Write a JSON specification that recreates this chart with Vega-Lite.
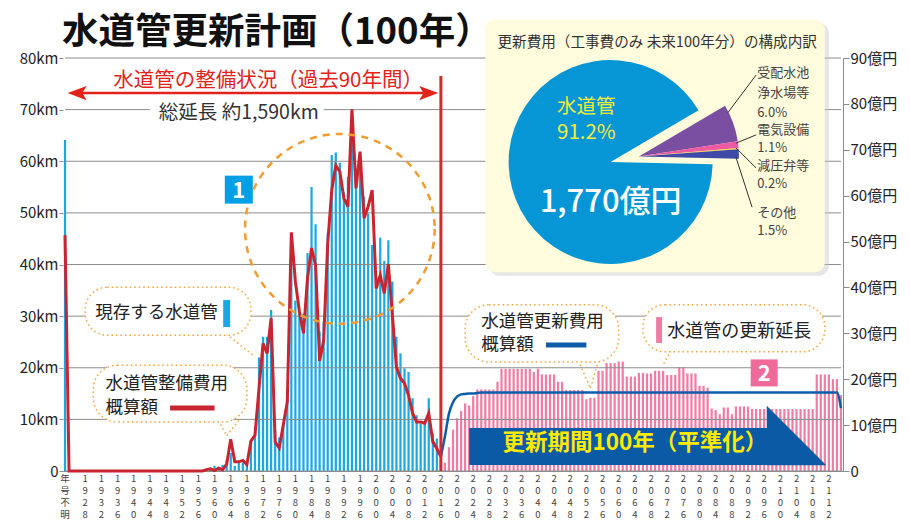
{
"$schema": "https://vega.github.io/schema/vega-lite/v6.json",
"width": 780, "height": 413,
"autosize": "none",
"padding": {"left": 63, "top": 58, "right": 67, "bottom": 49},
"background": "white",
"config": {"font": "Noto Sans CJK JP", "view": {"stroke": null}},
"datasets": {
"length": [
{"year":"年号不明","km":64.1,"phase":"現存"},
{"year":"1958","km":0.4,"phase":"現存"},{"year":"1959","km":0.6,"phase":"現存"},{"year":"1960","km":1.0,"phase":"現存"},{"year":"1961","km":0.8,"phase":"現存"},{"year":"1962","km":1.2,"phase":"現存"},{"year":"1963","km":2.2,"phase":"現存"},{"year":"1964","km":3.5,"phase":"現存"},{"year":"1965","km":1.0,"phase":"現存"},{"year":"1966","km":1.6,"phase":"現存"},{"year":"1967","km":1.6,"phase":"現存"},
{"year":"1968","km":1.3,"phase":"現存"},{"year":"1969","km":6.0,"phase":"現存"},{"year":"1970","km":7.0,"phase":"現存"},{"year":"1971","km":22.0,"phase":"現存"},{"year":"1972","km":26.0,"phase":"現存"},{"year":"1973","km":26.0,"phase":"現存"},{"year":"1974","km":31.2,"phase":"現存"},{"year":"1975","km":8.0,"phase":"現存"},{"year":"1976","km":6.5,"phase":"現存"},{"year":"1977","km":9.0,"phase":"現存"},
{"year":"1978","km":15.0,"phase":"現存"},{"year":"1979","km":46.0,"phase":"現存"},{"year":"1980","km":33.0,"phase":"現存"},{"year":"1981","km":31.0,"phase":"現存"},{"year":"1982","km":30.5,"phase":"現存"},{"year":"1983","km":42.2,"phase":"現存"},{"year":"1984","km":55.0,"phase":"現存"},{"year":"1985","km":47.8,"phase":"現存"},{"year":"1986","km":27.0,"phase":"現存"},{"year":"1987","km":29.0,"phase":"現存"},
{"year":"1988","km":46.0,"phase":"現存"},{"year":"1989","km":61.2,"phase":"現存"},{"year":"1990","km":61.7,"phase":"現存"},{"year":"1991","km":59.7,"phase":"現存"},{"year":"1992","km":54.0,"phase":"現存"},{"year":"1993","km":57.0,"phase":"現存"},{"year":"1994","km":64.4,"phase":"現存"},{"year":"1995","km":57.7,"phase":"現存"},{"year":"1996","km":61.5,"phase":"現存"},{"year":"1997","km":53.1,"phase":"現存"},
{"year":"1998","km":49.9,"phase":"現存"},{"year":"1999","km":43.8,"phase":"現存"},{"year":"2000","km":37.6,"phase":"現存"},{"year":"2001","km":45.2,"phase":"現存"},{"year":"2002","km":40.7,"phase":"現存"},{"year":"2003","km":44.7,"phase":"現存"},{"year":"2004","km":36.7,"phase":"現存"},{"year":"2005","km":26.0,"phase":"現存"},{"year":"2006","km":22.8,"phase":"現存"},{"year":"2007","km":19.9,"phase":"現存"},
{"year":"2008","km":19.2,"phase":"現存"},{"year":"2009","km":14.1,"phase":"現存"},{"year":"2010","km":10.8,"phase":"現存"},{"year":"2011","km":9.2,"phase":"現存"},{"year":"2012","km":9.2,"phase":"現存"},{"year":"2013","km":14.1,"phase":"現存"},{"year":"2014","km":7.3,"phase":"現存"},{"year":"2015","km":6.3,"phase":"現存"},{"year":"2016","km":2.1,"phase":"現存"},
{"year":"2017","km":1.6,"phase":"更新"},{"year":"2018","km":4.6,"phase":"更新"},{"year":"2019","km":8.0,"phase":"更新"},{"year":"2020","km":10.2,"phase":"更新"},{"year":"2021","km":11.6,"phase":"更新"},{"year":"2022","km":13.1,"phase":"更新"},{"year":"2023","km":12.7,"phase":"更新"},{"year":"2024","km":14.5,"phase":"更新"},{"year":"2025","km":15.8,"phase":"更新"},{"year":"2026","km":15.8,"phase":"更新"},
{"year":"2027","km":15.8,"phase":"更新"},{"year":"2028","km":15.8,"phase":"更新"},{"year":"2029","km":15.8,"phase":"更新"},{"year":"2030","km":17.3,"phase":"更新"},{"year":"2031","km":19.8,"phase":"更新"},{"year":"2032","km":19.8,"phase":"更新"},{"year":"2033","km":19.8,"phase":"更新"},{"year":"2034","km":19.8,"phase":"更新"},{"year":"2035","km":19.8,"phase":"更新"},{"year":"2036","km":19.8,"phase":"更新"},
{"year":"2037","km":19.8,"phase":"更新"},{"year":"2038","km":19.8,"phase":"更新"},{"year":"2039","km":19.2,"phase":"更新"},{"year":"2040","km":19.8,"phase":"更新"},{"year":"2041","km":18.7,"phase":"更新"},{"year":"2042","km":18.7,"phase":"更新"},{"year":"2043","km":18.7,"phase":"更新"},{"year":"2044","km":18.7,"phase":"更新"},{"year":"2045","km":17.3,"phase":"更新"},{"year":"2046","km":17.3,"phase":"更新"},
{"year":"2047","km":15.7,"phase":"更新"},{"year":"2048","km":15.7,"phase":"更新"},{"year":"2049","km":15.7,"phase":"更新"},{"year":"2050","km":15.7,"phase":"更新"},{"year":"2051","km":15.7,"phase":"更新"},{"year":"2052","km":13.9,"phase":"更新"},{"year":"2053","km":14.2,"phase":"更新"},{"year":"2054","km":14.2,"phase":"更新"},{"year":"2055","km":19.4,"phase":"更新"},{"year":"2056","km":19.4,"phase":"更新"},
{"year":"2057","km":20.9,"phase":"更新"},{"year":"2058","km":20.9,"phase":"更新"},{"year":"2059","km":20.9,"phase":"更新"},{"year":"2060","km":21.2,"phase":"更新"},{"year":"2061","km":21.2,"phase":"更新"},{"year":"2062","km":18.3,"phase":"更新"},{"year":"2063","km":18.3,"phase":"更新"},{"year":"2064","km":18.3,"phase":"更新"},{"year":"2065","km":19.0,"phase":"更新"},{"year":"2066","km":19.0,"phase":"更新"},
{"year":"2067","km":18.9,"phase":"更新"},{"year":"2068","km":18.9,"phase":"更新"},{"year":"2069","km":19.4,"phase":"更新"},{"year":"2070","km":19.4,"phase":"更新"},{"year":"2071","km":19.4,"phase":"更新"},{"year":"2072","km":18.6,"phase":"更新"},{"year":"2073","km":18.6,"phase":"更新"},{"year":"2074","km":18.6,"phase":"更新"},{"year":"2075","km":20.1,"phase":"更新"},{"year":"2076","km":20.1,"phase":"更新"},
{"year":"2077","km":18.9,"phase":"更新"},{"year":"2078","km":18.9,"phase":"更新"},{"year":"2079","km":18.9,"phase":"更新"},{"year":"2080","km":16.5,"phase":"更新"},{"year":"2081","km":16.5,"phase":"更新"},{"year":"2082","km":16.1,"phase":"更新"},{"year":"2083","km":12.1,"phase":"更新"},{"year":"2084","km":11.8,"phase":"更新"},{"year":"2085","km":11.0,"phase":"更新"},{"year":"2086","km":12.3,"phase":"更新"},
{"year":"2087","km":12.3,"phase":"更新"},{"year":"2088","km":11.0,"phase":"更新"},{"year":"2089","km":12.5,"phase":"更新"},{"year":"2090","km":12.5,"phase":"更新"},{"year":"2091","km":12.5,"phase":"更新"},{"year":"2092","km":12.5,"phase":"更新"},{"year":"2093","km":12.0,"phase":"更新"},{"year":"2094","km":12.0,"phase":"更新"},{"year":"2095","km":12.0,"phase":"更新"},{"year":"2096","km":12.0,"phase":"更新"},
{"year":"2097","km":12.0,"phase":"更新"},{"year":"2098","km":12.0,"phase":"更新"},{"year":"2099","km":12.0,"phase":"更新"},{"year":"2100","km":12.0,"phase":"更新"},{"year":"2101","km":12.0,"phase":"更新"},{"year":"2102","km":12.0,"phase":"更新"},{"year":"2103","km":12.0,"phase":"更新"},{"year":"2104","km":12.0,"phase":"更新"},{"year":"2105","km":12.0,"phase":"更新"},{"year":"2106","km":12.0,"phase":"更新"},
{"year":"2107","km":12.0,"phase":"更新"},{"year":"2108","km":12.0,"phase":"更新"},{"year":"2109","km":18.7,"phase":"更新"},{"year":"2110","km":18.7,"phase":"更新"},{"year":"2111","km":18.7,"phase":"更新"},{"year":"2112","km":18.7,"phase":"更新"},{"year":"2113","km":17.8,"phase":"更新"},{"year":"2114","km":17.8,"phase":"更新"},{"year":"2115","km":14.7,"phase":"更新"}
],
"cost": [
{"year":"年号不明","oku":51.4,"series":"整備費用"},
{"year":"1924","oku":0,"series":"整備費用"},{"year":"1925","oku":0,"series":"整備費用"},{"year":"1926","oku":0,"series":"整備費用"},{"year":"1927","oku":0,"series":"整備費用"},{"year":"1928","oku":0,"series":"整備費用"},{"year":"1929","oku":0,"series":"整備費用"},{"year":"1930","oku":0,"series":"整備費用"},{"year":"1931","oku":0,"series":"整備費用"},{"year":"1932","oku":0,"series":"整備費用"},{"year":"1933","oku":0,"series":"整備費用"},
{"year":"1934","oku":0,"series":"整備費用"},{"year":"1935","oku":0,"series":"整備費用"},{"year":"1936","oku":0,"series":"整備費用"},{"year":"1937","oku":0,"series":"整備費用"},{"year":"1938","oku":0,"series":"整備費用"},{"year":"1939","oku":0,"series":"整備費用"},{"year":"1940","oku":0,"series":"整備費用"},{"year":"1941","oku":0,"series":"整備費用"},{"year":"1942","oku":0,"series":"整備費用"},{"year":"1943","oku":0,"series":"整備費用"},
{"year":"1944","oku":0,"series":"整備費用"},{"year":"1945","oku":0,"series":"整備費用"},{"year":"1946","oku":0,"series":"整備費用"},{"year":"1947","oku":0,"series":"整備費用"},{"year":"1948","oku":0,"series":"整備費用"},{"year":"1949","oku":0,"series":"整備費用"},{"year":"1950","oku":0,"series":"整備費用"},{"year":"1951","oku":0,"series":"整備費用"},{"year":"1952","oku":0,"series":"整備費用"},{"year":"1953","oku":0,"series":"整備費用"},
{"year":"1954","oku":0,"series":"整備費用"},{"year":"1955","oku":0,"series":"整備費用"},{"year":"1956","oku":0,"series":"整備費用"},{"year":"1957","oku":0,"series":"整備費用"},
{"year":"1958","oku":0.3,"series":"整備費用"},{"year":"1959","oku":0.5,"series":"整備費用"},{"year":"1960","oku":0.1,"series":"整備費用"},{"year":"1961","oku":0.6,"series":"整備費用"},{"year":"1962","oku":0.3,"series":"整備費用"},{"year":"1963","oku":1.5,"series":"整備費用"},{"year":"1964","oku":6.9,"series":"整備費用"},{"year":"1965","oku":2.0,"series":"整備費用"},{"year":"1966","oku":2.0,"series":"整備費用"},{"year":"1967","oku":2.3,"series":"整備費用"},
{"year":"1968","oku":1.4,"series":"整備費用"},{"year":"1969","oku":6.5,"series":"整備費用"},{"year":"1970","oku":7.8,"series":"整備費用"},{"year":"1971","oku":18.0,"series":"整備費用"},{"year":"1972","oku":27.8,"series":"整備費用"},{"year":"1973","oku":25.6,"series":"整備費用"},{"year":"1974","oku":33.3,"series":"整備費用"},{"year":"1975","oku":6.3,"series":"整備費用"},{"year":"1976","oku":5.0,"series":"整備費用"},{"year":"1977","oku":10.0,"series":"整備費用"},
{"year":"1978","oku":15.1,"series":"整備費用"},{"year":"1979","oku":52.0,"series":"整備費用"},{"year":"1980","oku":41.3,"series":"整備費用"},{"year":"1981","oku":34.7,"series":"整備費用"},{"year":"1982","oku":30.0,"series":"整備費用"},{"year":"1983","oku":42.0,"series":"整備費用"},{"year":"1984","oku":48.6,"series":"整備費用"},{"year":"1985","oku":44.8,"series":"整備費用"},{"year":"1986","oku":24.0,"series":"整備費用"},{"year":"1987","oku":28.5,"series":"整備費用"},
{"year":"1988","oku":49.6,"series":"整備費用"},{"year":"1989","oku":61.2,"series":"整備費用"},{"year":"1990","oku":66.6,"series":"整備費用"},{"year":"1991","oku":65.2,"series":"整備費用"},{"year":"1992","oku":59.4,"series":"整備費用"},{"year":"1993","oku":57.6,"series":"整備費用"},{"year":"1994","oku":78.8,"series":"整備費用"},{"year":"1995","oku":61.6,"series":"整備費用"},{"year":"1996","oku":69.6,"series":"整備費用"},{"year":"1997","oku":55.1,"series":"整備費用"},
{"year":"1998","oku":57.6,"series":"整備費用"},{"year":"1999","oku":61.2,"series":"整備費用"},{"year":"2000","oku":39.8,"series":"整備費用"},{"year":"2001","oku":42.7,"series":"整備費用"},{"year":"2002","oku":38.7,"series":"整備費用"},{"year":"2003","oku":45.1,"series":"整備費用"},{"year":"2004","oku":34.0,"series":"整備費用"},{"year":"2005","oku":22.7,"series":"整備費用"},{"year":"2006","oku":20.2,"series":"整備費用"},{"year":"2007","oku":19.1,"series":"整備費用"},
{"year":"2008","oku":16.5,"series":"整備費用"},{"year":"2009","oku":12.6,"series":"整備費用"},{"year":"2010","oku":10.7,"series":"整備費用"},{"year":"2011","oku":10.7,"series":"整備費用"},{"year":"2012","oku":10.4,"series":"整備費用"},{"year":"2013","oku":12.6,"series":"整備費用"},{"year":"2014","oku":6.4,"series":"整備費用"},{"year":"2015","oku":4.9,"series":"整備費用"},{"year":"2016","oku":3.1,"series":"整備費用"},
{"year":"2016","oku":3.1,"series":"更新費用"},{"year":"2017","oku":7.5,"series":"更新費用"},{"year":"2018","oku":12.5,"series":"更新費用"},{"year":"2019","oku":15.0,"series":"更新費用"},{"year":"2020","oku":16.2,"series":"更新費用"},{"year":"2021","oku":16.7,"series":"更新費用"},{"year":"2022","oku":16.8,"series":"更新費用"},{"year":"2023","oku":16.9,"series":"更新費用"},{"year":"2024","oku":16.9,"series":"更新費用"},{"year":"2025","oku":17.0,"series":"更新費用"},
{"year":"2026","oku":17.1,"series":"更新費用"},{"year":"2027","oku":17.1,"series":"更新費用"},{"year":"2028","oku":17.1,"series":"更新費用"},{"year":"2029","oku":17.1,"series":"更新費用"},{"year":"2030","oku":17.1,"series":"更新費用"},{"year":"2031","oku":17.1,"series":"更新費用"},{"year":"2032","oku":17.1,"series":"更新費用"},{"year":"2033","oku":17.1,"series":"更新費用"},{"year":"2034","oku":17.1,"series":"更新費用"},{"year":"2035","oku":17.1,"series":"更新費用"},
{"year":"2036","oku":17.1,"series":"更新費用"},{"year":"2037","oku":17.1,"series":"更新費用"},{"year":"2038","oku":17.1,"series":"更新費用"},{"year":"2039","oku":17.1,"series":"更新費用"},{"year":"2040","oku":17.1,"series":"更新費用"},{"year":"2041","oku":17.1,"series":"更新費用"},{"year":"2042","oku":17.1,"series":"更新費用"},{"year":"2043","oku":17.1,"series":"更新費用"},{"year":"2044","oku":17.1,"series":"更新費用"},{"year":"2045","oku":17.1,"series":"更新費用"},
{"year":"2046","oku":17.1,"series":"更新費用"},{"year":"2047","oku":17.1,"series":"更新費用"},{"year":"2048","oku":17.1,"series":"更新費用"},{"year":"2049","oku":17.1,"series":"更新費用"},{"year":"2050","oku":17.1,"series":"更新費用"},{"year":"2051","oku":17.1,"series":"更新費用"},{"year":"2052","oku":17.1,"series":"更新費用"},{"year":"2053","oku":17.1,"series":"更新費用"},{"year":"2054","oku":17.1,"series":"更新費用"},{"year":"2055","oku":17.1,"series":"更新費用"},
{"year":"2056","oku":17.1,"series":"更新費用"},{"year":"2057","oku":17.1,"series":"更新費用"},{"year":"2058","oku":17.1,"series":"更新費用"},{"year":"2059","oku":17.1,"series":"更新費用"},{"year":"2060","oku":17.1,"series":"更新費用"},{"year":"2061","oku":17.1,"series":"更新費用"},{"year":"2062","oku":17.1,"series":"更新費用"},{"year":"2063","oku":17.1,"series":"更新費用"},{"year":"2064","oku":17.1,"series":"更新費用"},{"year":"2065","oku":17.1,"series":"更新費用"},
{"year":"2066","oku":17.1,"series":"更新費用"},{"year":"2067","oku":17.1,"series":"更新費用"},{"year":"2068","oku":17.1,"series":"更新費用"},{"year":"2069","oku":17.1,"series":"更新費用"},{"year":"2070","oku":17.1,"series":"更新費用"},{"year":"2071","oku":17.1,"series":"更新費用"},{"year":"2072","oku":17.1,"series":"更新費用"},{"year":"2073","oku":17.1,"series":"更新費用"},{"year":"2074","oku":17.1,"series":"更新費用"},{"year":"2075","oku":17.1,"series":"更新費用"},
{"year":"2076","oku":17.1,"series":"更新費用"},{"year":"2077","oku":17.1,"series":"更新費用"},{"year":"2078","oku":17.1,"series":"更新費用"},{"year":"2079","oku":17.1,"series":"更新費用"},{"year":"2080","oku":17.1,"series":"更新費用"},{"year":"2081","oku":17.1,"series":"更新費用"},{"year":"2082","oku":17.1,"series":"更新費用"},{"year":"2083","oku":17.1,"series":"更新費用"},{"year":"2084","oku":17.1,"series":"更新費用"},{"year":"2085","oku":17.1,"series":"更新費用"},
{"year":"2086","oku":17.1,"series":"更新費用"},{"year":"2087","oku":17.1,"series":"更新費用"},{"year":"2088","oku":17.1,"series":"更新費用"},{"year":"2089","oku":17.1,"series":"更新費用"},{"year":"2090","oku":17.1,"series":"更新費用"},{"year":"2091","oku":17.1,"series":"更新費用"},{"year":"2092","oku":17.1,"series":"更新費用"},{"year":"2093","oku":17.1,"series":"更新費用"},{"year":"2094","oku":17.1,"series":"更新費用"},{"year":"2095","oku":17.1,"series":"更新費用"},
{"year":"2096","oku":17.1,"series":"更新費用"},{"year":"2097","oku":17.1,"series":"更新費用"},{"year":"2098","oku":17.1,"series":"更新費用"},{"year":"2099","oku":17.1,"series":"更新費用"},{"year":"2100","oku":17.1,"series":"更新費用"},{"year":"2101","oku":17.1,"series":"更新費用"},{"year":"2102","oku":17.1,"series":"更新費用"},{"year":"2103","oku":17.1,"series":"更新費用"},{"year":"2104","oku":17.1,"series":"更新費用"},{"year":"2105","oku":17.1,"series":"更新費用"},
{"year":"2106","oku":17.1,"series":"更新費用"},{"year":"2107","oku":17.1,"series":"更新費用"},{"year":"2108","oku":17.1,"series":"更新費用"},{"year":"2109","oku":17.1,"series":"更新費用"},{"year":"2110","oku":17.1,"series":"更新費用"},{"year":"2111","oku":17.1,"series":"更新費用"},{"year":"2112","oku":17.1,"series":"更新費用"},{"year":"2113","oku":17.1,"series":"更新費用"},{"year":"2114","oku":17.1,"series":"更新費用"},{"year":"2115","oku":13.7,"series":"更新費用"}
],
"pie": [
{"item":"受配水池・浄水場等","pct":6.0,"no":1},
{"item":"電気設備","pct":1.1,"no":2},
{"item":"減圧弁等","pct":0.2,"no":3},
{"item":"その他","pct":1.5,"no":4},
{"item":"水道管","pct":91.2,"no":5}
]
},
"data": {"values": [{}]},
"layer": [
{"data": {"name": "length"}, "transform": [{"filter": "datum.phase === '現存'"}],
 "mark": {"type": "bar", "color": "#1aa8e2"},
 "encoding": {
  "x": {"field": "year", "type": "ordinal",
   "scale": {"type": "band", "paddingInner": 0.45, "paddingOuter": 0.225, "domain": ["年号不明",
"1924","1925","1926","1927","1928","1929","1930","1931","1932","1933",
"1934","1935","1936","1937","1938","1939","1940","1941","1942","1943",
"1944","1945","1946","1947","1948","1949","1950","1951","1952","1953",
"1954","1955","1956","1957","1958","1959","1960","1961","1962","1963",
"1964","1965","1966","1967","1968","1969","1970","1971","1972","1973",
"1974","1975","1976","1977","1978","1979","1980","1981","1982","1983",
"1984","1985","1986","1987","1988","1989","1990","1991","1992","1993",
"1994","1995","1996","1997","1998","1999","2000","2001","2002","2003",
"2004","2005","2006","2007","2008","2009","2010","2011","2012","2013",
"2014","2015","2016","2017","2018","2019","2020","2021","2022","2023",
"2024","2025","2026","2027","2028","2029","2030","2031","2032","2033",
"2034","2035","2036","2037","2038","2039","2040","2041","2042","2043",
"2044","2045","2046","2047","2048","2049","2050","2051","2052","2053",
"2054","2055","2056","2057","2058","2059","2060","2061","2062","2063",
"2064","2065","2066","2067","2068","2069","2070","2071","2072","2073",
"2074","2075","2076","2077","2078","2079","2080","2081","2082","2083",
"2084","2085","2086","2087","2088","2089","2090","2091","2092","2093",
"2094","2095","2096","2097","2098","2099","2100","2101","2102","2103",
"2104","2105","2106","2107","2108","2109","2110","2111","2112","2113",
"2114","2115"]},
   "axis": {"title": null, "ticks": false, "domain": true, "domainColor": "#8c8c8c", "labelAngle": 0,
    "values": ["年号不明","1928","1932","1936","1940","1944","1948","1952","1956","1960","1964","1968","1972","1976","1980","1984","1988","1992","1996","2000","2004","2008","2012","2016","2020","2024","2028","2032","2036","2040","2044","2048","2052","2056","2060","2064","2068","2072","2076","2080","2084","2088","2092","2096","2100","2104","2108","2112"],
    "labelExpr": "split(datum.label, '')",
    "labelFontSize": 9.5, "labelLineHeight": 12, "labelColor": "#444444", "labelOverlap": false, "labelPadding": 2, "labelBaseline": "top", "labelFlush": false, "labelBound": false}},
  "y": {"field": "km", "type": "quantitative", "scale": {"domain": [0, 80], "nice": false},
   "axis": {"orient": "left", "values": [0,10,20,30,40,50,60,70,80], "labelExpr": "datum.value === 0 ? '0' : datum.value + 'km'", "title": null, "grid": false, "domain": false, "tickColor": "#8c8c8c", "tickSize": 4, "labelFontSize": 15, "labelColor": "#222222", "labelPadding": 1}}
 }},
{"data": {"name": "length"}, "transform": [{"filter": "datum.phase === '更新'"}],
 "mark": {"type": "bar", "color": "#f07ca4"},
 "encoding": {
  "x": {"field": "year", "type": "ordinal", "axis": {"title": null}},
  "y": {"field": "km", "type": "quantitative", "scale": {"domain": [0, 80], "nice": false}, "axis": null}
 }},
{"mark": {"type": "rule", "color": "#8c8c8c", "strokeWidth": 1},
 "encoding": {"x": {"datum": "年号不明", "type": "ordinal", "axis": {"title": null}}, "x2": {"datum": "2115"}, "y": {"datum": 0, "type": "quantitative", "scale": {"domain": [0, 80], "nice": false}, "axis": null}}},
{"mark": {"type": "rule", "color": "#8c8c8c", "strokeWidth": 1},
 "encoding": {"x": {"datum": "年号不明", "type": "ordinal", "axis": {"title": null}}, "x2": {"datum": "2115"}, "y": {"datum": 10, "type": "quantitative", "scale": {"domain": [0, 80], "nice": false}, "axis": null}}},
{"mark": {"type": "rule", "color": "#8c8c8c", "strokeWidth": 1},
 "encoding": {"x": {"datum": "年号不明", "type": "ordinal", "axis": {"title": null}}, "x2": {"datum": "2115"}, "y": {"datum": 20, "type": "quantitative", "scale": {"domain": [0, 80], "nice": false}, "axis": null}}},
{"mark": {"type": "rule", "color": "#8c8c8c", "strokeWidth": 1},
 "encoding": {"x": {"datum": "年号不明", "type": "ordinal", "axis": {"title": null}}, "x2": {"datum": "2115"}, "y": {"datum": 30, "type": "quantitative", "scale": {"domain": [0, 80], "nice": false}, "axis": null}}},
{"mark": {"type": "rule", "color": "#8c8c8c", "strokeWidth": 1},
 "encoding": {"x": {"datum": "年号不明", "type": "ordinal", "axis": {"title": null}}, "x2": {"datum": "2115"}, "y": {"datum": 40, "type": "quantitative", "scale": {"domain": [0, 80], "nice": false}, "axis": null}}},
{"mark": {"type": "rule", "color": "#8c8c8c", "strokeWidth": 1},
 "encoding": {"x": {"datum": "年号不明", "type": "ordinal", "axis": {"title": null}}, "x2": {"datum": "2115"}, "y": {"datum": 50, "type": "quantitative", "scale": {"domain": [0, 80], "nice": false}, "axis": null}}},
{"mark": {"type": "rule", "color": "#8c8c8c", "strokeWidth": 1},
 "encoding": {"x": {"datum": "年号不明", "type": "ordinal", "axis": {"title": null}}, "x2": {"datum": "2115"}, "y": {"datum": 60, "type": "quantitative", "scale": {"domain": [0, 80], "nice": false}, "axis": null}}},
{"mark": {"type": "rule", "color": "#8c8c8c", "strokeWidth": 1},
 "encoding": {"x": {"datum": "年号不明", "type": "ordinal", "axis": {"title": null}}, "x2": {"datum": "2115"}, "y": {"datum": 70, "type": "quantitative", "scale": {"domain": [0, 80], "nice": false}, "axis": null}}},
{"mark": {"type": "rule", "color": "#8c8c8c", "strokeWidth": 1},
 "encoding": {"x": {"datum": "年号不明", "type": "ordinal", "axis": {"title": null}}, "x2": {"datum": "2115"}, "y": {"datum": 80, "type": "quantitative", "scale": {"domain": [0, 80], "nice": false}, "axis": null}}},
{"data": {"name": "cost"}, "transform": [{"filter": "datum.series === '整備費用'"}],
 "mark": {"type": "line", "color": "#c92530", "strokeWidth": 3},
 "encoding": {
  "x": {"field": "year", "type": "ordinal", "axis": {"title": null}},
  "y": {"field": "oku", "type": "quantitative", "scale": {"domain": [0, 90], "nice": false},
   "axis": {"orient": "right", "values": [0,10,20,30,40,50,60,70,80,90], "labelExpr": "datum.value === 0 ? '0' : datum.value + '億円'", "title": null, "grid": false, "domain": true, "domainColor": "#8c8c8c", "tickColor": "#8c8c8c", "tickSize": 6, "labelFontSize": 15, "labelColor": "#222222", "labelPadding": 1}},
  "order": {"value": null}
 }},
{"data": {"name": "cost"}, "transform": [{"filter": "datum.series === '更新費用'"}],
 "mark": {"type": "line", "color": "#0d5ca8", "strokeWidth": 2.5, "interpolate": "monotone"},
 "encoding": {
  "x": {"field": "year", "type": "ordinal", "axis": {"title": null}},
  "y": {"field": "oku", "type": "quantitative", "scale": {"domain": [0, 90], "nice": false}, "axis": null},
  "order": {"value": null}
 }},
{"mark": {"type": "text", "text": "水道管更新計画（100年）", "fontSize": 36.5, "fontWeight": "bold", "color": "#111111", "align": "left", "dx": -3},
 "encoding": {"x": {"datum": "年号不明", "type": "ordinal", "axis": {"title": null}}, "y": {"datum": 84.9, "type": "quantitative", "scale": {"domain": [0, 80], "nice": false}, "axis": null}}},
{"mark": {"type": "rect", "fill": "white"},
 "encoding": {"x": {"datum": "1944", "type": "ordinal", "axis": {"title": null}}, "x2": {"datum": "1987"},
  "y": {"datum": 71.6, "type": "quantitative", "scale": {"domain": [0, 80], "nice": false}, "axis": null}, "y2": {"datum": 67.6}}},
{"mark": {"type": "text", "text": "総延長 約1,590km", "fontSize": 19.5, "color": "#333333"},
 "encoding": {"x": {"datum": "1966", "type": "ordinal", "axis": {"title": null}}, "y": {"datum": 69.4, "type": "quantitative", "scale": {"domain": [0, 80], "nice": false}, "axis": null}}},
{"mark": {"type": "text", "text": "水道管の整備状況（過去90年間）", "fontSize": 20.5, "color": "#e2231a", "dx": 5},
 "encoding": {"x": {"datum": "1972", "type": "ordinal", "axis": {"title": null}}, "y": {"datum": 75.6, "type": "quantitative", "scale": {"domain": [0, 80], "nice": false}, "axis": null}}},
{"mark": {"type": "rule", "color": "#e2231a", "strokeWidth": 2.5},
 "encoding": {"x": {"datum": "1925", "type": "ordinal", "axis": {"title": null}}, "x2": {"datum": "2014"}, "y": {"datum": 73.2, "type": "quantitative", "scale": {"domain": [0, 80], "nice": false}, "axis": null}}},
{"mark": {"type": "point", "shape": "M-1,0L1,-0.75L0.55,0L1,0.75Z", "size": 360, "filled": true, "color": "#e2231a", "opacity": 1, "strokeWidth": 0},
 "encoding": {"x": {"datum": "1926", "type": "ordinal", "axis": {"title": null}}, "y": {"datum": 73.2, "type": "quantitative", "scale": {"domain": [0, 80], "nice": false}, "axis": null}}},
{"mark": {"type": "point", "shape": "M1,0L-1,-0.75L-0.55,0L-1,0.75Z", "size": 360, "filled": true, "color": "#e2231a", "opacity": 1, "strokeWidth": 0},
 "encoding": {"x": {"datum": "2013", "type": "ordinal", "axis": {"title": null}}, "y": {"datum": 73.2, "type": "quantitative", "scale": {"domain": [0, 80], "nice": false}, "axis": null}}},
{"mark": {"type": "rule", "color": "#d42a2f", "strokeWidth": 3},
 "encoding": {"x": {"datum": "2016", "type": "ordinal", "axis": {"title": null}}, "y": {"datum": 0, "type": "quantitative", "scale": {"domain": [0, 80], "nice": false}, "axis": null}, "y2": {"datum": 76.5}}},
{"mark": {"type": "point", "shape": "circle", "size": 35968, "filled": false, "stroke": "#f39b2f", "strokeWidth": 2.5, "strokeDash": [7, 6], "opacity": 1},
 "encoding": {"x": {"datum": "1991", "type": "ordinal", "axis": {"title": null}}, "y": {"datum": 46.9, "type": "quantitative", "scale": {"domain": [0, 80], "nice": false}, "axis": null}}},
{"mark": {"type": "point", "shape": "square", "size": 784, "filled": true, "color": "#00a0e4", "opacity": 1, "strokeWidth": 0},
 "encoding": {"x": {"datum": "1966", "type": "ordinal", "axis": {"title": null}}, "y": {"datum": 54.5, "type": "quantitative", "scale": {"domain": [0, 80], "nice": false}, "axis": null}}},
{"mark": {"type": "text", "text": "1", "fontSize": 22, "fontWeight": "bold", "color": "white", "dy": 1},
 "encoding": {"x": {"datum": "1966", "type": "ordinal", "axis": {"title": null}}, "y": {"datum": 54.5, "type": "quantitative", "scale": {"domain": [0, 80], "nice": false}, "axis": null}}},
{"mark": {"type": "rule", "color": "#f5a337", "strokeWidth": 1.5, "strokeDash": [1.5, 3]},
 "encoding": {"x": {"datum": "1963", "type": "ordinal", "axis": {"title": null}}, "x2": {"datum": "1970"}, "y": {"datum": 26.5, "type": "quantitative", "scale": {"domain": [0, 80], "nice": false}, "axis": null}, "y2": {"datum": 22.1}}},
{"mark": {"type": "rule", "color": "#f5a337", "strokeWidth": 1.5, "strokeDash": [1.5, 3]},
 "encoding": {"x": {"datum": "1961", "type": "ordinal", "axis": {"title": null}}, "x2": {"datum": "1963"}, "y": {"datum": 9.8, "type": "quantitative", "scale": {"domain": [0, 80], "nice": false}, "axis": null}, "y2": {"datum": 6.8}}},
{"mark": {"type": "rule", "color": "#f5a337", "strokeWidth": 1.5, "strokeDash": [1.5, 3]},
 "encoding": {"x": {"datum": "1966", "type": "ordinal", "axis": {"title": null}}, "x2": {"datum": "1963"}, "y": {"datum": 9.8, "type": "quantitative", "scale": {"domain": [0, 80], "nice": false}, "axis": null}, "y2": {"datum": 6.8}}},
{"mark": {"type": "rule", "color": "#f5a337", "strokeWidth": 1.5, "strokeDash": [1.5, 3]},
 "encoding": {"x": {"datum": "2050", "type": "ordinal", "axis": {"title": null}}, "x2": {"datum": "2053"}, "y": {"datum": 21.4, "type": "quantitative", "scale": {"domain": [0, 80], "nice": false}, "axis": null}, "y2": {"datum": 16.0}}},
{"mark": {"type": "rule", "color": "#f5a337", "strokeWidth": 1.5, "strokeDash": [1.5, 3]},
 "encoding": {"x": {"datum": "2055", "type": "ordinal", "axis": {"title": null}}, "x2": {"datum": "2053"}, "y": {"datum": 21.4, "type": "quantitative", "scale": {"domain": [0, 80], "nice": false}, "axis": null}, "y2": {"datum": 16.0}}},
{"mark": {"type": "rule", "color": "#f5a337", "strokeWidth": 1.5, "strokeDash": [1.5, 3]},
 "encoding": {"x": {"datum": "2073", "type": "ordinal", "axis": {"title": null}}, "x2": {"datum": "2071"}, "y": {"datum": 23.3, "type": "quantitative", "scale": {"domain": [0, 80], "nice": false}, "axis": null}, "y2": {"datum": 20.6}}},
{"mark": {"type": "rect", "fill": "white", "stroke": "#f5a337", "strokeWidth": 1.5, "strokeDash": [1.5, 3], "cornerRadius": 22},
 "encoding": {"x": {"datum": "1928", "type": "ordinal", "axis": {"title": null}}, "x2": {"datum": "1969"}, "y": {"datum": 35.6, "type": "quantitative", "scale": {"domain": [0, 80], "nice": false}, "axis": null}, "y2": {"datum": 26.3}}},
{"mark": {"type": "rect", "fill": "white", "stroke": "#f5a337", "strokeWidth": 1.5, "strokeDash": [1.5, 3], "cornerRadius": 24},
 "encoding": {"x": {"datum": "1930", "type": "ordinal", "axis": {"title": null}}, "x2": {"datum": "1968"}, "y": {"datum": 20.5, "type": "quantitative", "scale": {"domain": [0, 80], "nice": false}, "axis": null}, "y2": {"datum": 9.5}}},
{"mark": {"type": "rect", "fill": "white", "stroke": "#f5a337", "strokeWidth": 1.5, "strokeDash": [1.5, 3], "cornerRadius": 24},
 "encoding": {"x": {"datum": "2022", "type": "ordinal", "axis": {"title": null}}, "x2": {"datum": "2060"}, "y": {"datum": 32.2, "type": "quantitative", "scale": {"domain": [0, 80], "nice": false}, "axis": null}, "y2": {"datum": 21.1}}},
{"mark": {"type": "rect", "fill": "white", "stroke": "#f5a337", "strokeWidth": 1.5, "strokeDash": [1.5, 3], "cornerRadius": 22},
 "encoding": {"x": {"datum": "2066", "type": "ordinal", "axis": {"title": null}}, "x2": {"datum": "2111"}, "y": {"datum": 32.2, "type": "quantitative", "scale": {"domain": [0, 80], "nice": false}, "axis": null}, "y2": {"datum": 23.1}}},
{"mark": {"type": "text", "text": "現存する水道管", "fontSize": 17.5, "color": "#222222", "align": "left", "dx": 2},
 "encoding": {"x": {"datum": "1930", "type": "ordinal", "axis": {"title": null}}, "y": {"datum": 30.6, "type": "quantitative", "scale": {"domain": [0, 80], "nice": false}, "axis": null}}},
{"mark": {"type": "tick", "orient": "vertical", "color": "#1aa8e2", "thickness": 7, "size": 27, "opacity": 1},
 "encoding": {"x": {"datum": "1963", "type": "ordinal", "axis": {"title": null}}, "y": {"datum": 30.5, "type": "quantitative", "scale": {"domain": [0, 80], "nice": false}, "axis": null}}},
{"mark": {"type": "text", "text": ["水道管整備費用", "概算額"], "fontSize": 17.5, "lineHeight": 23.5, "color": "#222222", "align": "left", "baseline": "middle"},
 "encoding": {"x": {"datum": "1933", "type": "ordinal", "axis": {"title": null}}, "y": {"datum": 16.8, "type": "quantitative", "scale": {"domain": [0, 80], "nice": false}, "axis": null}}},
{"mark": {"type": "rule", "color": "#c92530", "strokeWidth": 5},
 "encoding": {"x": {"datum": "1949", "type": "ordinal", "axis": {"title": null}}, "x2": {"datum": "1960"}, "y": {"datum": 12.2, "type": "quantitative", "scale": {"domain": [0, 80], "nice": false}, "axis": null}}},
{"mark": {"type": "text", "text": ["水道管更新費用", "概算額"], "fontSize": 17.5, "lineHeight": 23, "color": "#222222", "align": "left", "baseline": "middle"},
 "encoding": {"x": {"datum": "2026", "type": "ordinal", "axis": {"title": null}}, "y": {"datum": 28.8, "type": "quantitative", "scale": {"domain": [0, 80], "nice": false}, "axis": null}}},
{"mark": {"type": "rule", "color": "#0d5ca8", "strokeWidth": 5},
 "encoding": {"x": {"datum": "2042", "type": "ordinal", "axis": {"title": null}}, "x2": {"datum": "2052"}, "y": {"datum": 24.4, "type": "quantitative", "scale": {"domain": [0, 80], "nice": false}, "axis": null}}},
{"mark": {"type": "tick", "orient": "vertical", "color": "#f07ca4", "thickness": 6, "size": 26, "opacity": 1},
 "encoding": {"x": {"datum": "2070", "type": "ordinal", "axis": {"title": null}}, "y": {"datum": 27.3, "type": "quantitative", "scale": {"domain": [0, 80], "nice": false}, "axis": null}}},
{"mark": {"type": "text", "text": "水道管の更新延長", "fontSize": 18, "color": "#222222", "align": "left"},
 "encoding": {"x": {"datum": "2072", "type": "ordinal", "axis": {"title": null}}, "y": {"datum": 27.0, "type": "quantitative", "scale": {"domain": [0, 80], "nice": false}, "axis": null}}},
{"mark": {"type": "point", "shape": "square", "size": 729, "filled": true, "color": "#ef6a9b", "opacity": 1, "strokeWidth": 0},
 "encoding": {"x": {"datum": "2096", "type": "ordinal", "axis": {"title": null}}, "y": {"datum": 19.0, "type": "quantitative", "scale": {"domain": [0, 80], "nice": false}, "axis": null}}},
{"mark": {"type": "text", "text": "2", "fontSize": 22, "fontWeight": "bold", "color": "white", "dy": 1},
 "encoding": {"x": {"datum": "2096", "type": "ordinal", "axis": {"title": null}}, "y": {"datum": 19.0, "type": "quantitative", "scale": {"domain": [0, 80], "nice": false}, "axis": null}}},
{"mark": {"type": "rect", "fill": "#0b5aa6"},
 "encoding": {"x": {"datum": "2023", "type": "ordinal", "axis": {"title": null}}, "x2": {"datum": "2097"}, "y": {"datum": 8.33, "type": "quantitative", "scale": {"domain": [0, 80], "nice": false}, "axis": null}, "y2": {"datum": 1.16}}},
{"mark": {"type": "point", "shape": "M-1,-1L1,1L-1,1Z", "size": 3540, "filled": true, "color": "#0b5aa6", "opacity": 1, "strokeWidth": 0},
 "encoding": {"x": {"datum": "2104", "type": "ordinal", "axis": {"title": null}}, "y": {"datum": 6.88, "type": "quantitative", "scale": {"domain": [0, 80], "nice": false}, "axis": null}}},
{"mark": {"type": "text", "text": "更新期間100年（平準化）", "fontSize": 22.5, "fontWeight": "bold", "color": "#ffea00", "dx": 4},
 "encoding": {"x": {"datum": "2063", "type": "ordinal", "axis": {"title": null}}, "y": {"datum": 5.4, "type": "quantitative", "scale": {"domain": [0, 80], "nice": false}, "axis": null}}},
{"mark": {"type": "rect", "fill": "#c8c8c8", "opacity": 0.45, "cornerRadius": 10},
 "encoding": {"x": {"datum": "2028", "type": "ordinal", "axis": {"title": null}}, "x2": {"datum": "2112"}, "y": {"datum": 86.8, "type": "quantitative", "scale": {"domain": [0, 80], "nice": false}, "axis": null}, "y2": {"datum": 37.8}}},
{"mark": {"type": "rect", "fill": "#fffbdd", "cornerRadius": 10},
 "encoding": {"x": {"datum": "2027", "type": "ordinal", "axis": {"title": null}}, "x2": {"datum": "2111"}, "y": {"datum": 87.4, "type": "quantitative", "scale": {"domain": [0, 80], "nice": false}, "axis": null}, "y2": {"datum": 38.5}}},
{"mark": {"type": "text", "text": "更新費用（工事費のみ 未来100年分）の構成内訳", "fontSize": 14.6, "color": "#333333", "align": "left"},
 "encoding": {"x": {"datum": "2030", "type": "ordinal", "axis": {"title": null}}, "y": {"datum": 82.9, "type": "quantitative", "scale": {"domain": [0, 80], "nice": false}, "axis": null}}},
{"data": {"name": "pie"},
 "mark": {"type": "arc", "outerRadius": 102},
 "encoding": {
  "theta": {"field": "pct", "type": "quantitative", "stack": true, "scale": {"range": [1.0385, 7.3217]}},
  "order": {"field": "no", "type": "quantitative", "sort": "ascending"},
  "color": {"field": "item", "type": "nominal", "scale": {"domain": ["受配水池・浄水場等", "電気設備", "減圧弁等", "その他", "水道管"], "range": ["#7a4ea0", "#ec5aa2", "#f3d23b", "#3f4aa8", "#0796d5"]}, "legend": null},
  "opacity": {"condition": {"test": "datum.item === '水道管'", "value": 1}, "value": 0},
  "x": {"datum": "2058", "type": "ordinal", "axis": {"title": null}},
  "y": {"datum": 59.85, "type": "quantitative", "scale": {"domain": [0, 80], "nice": false}, "axis": null}
 }},
{"data": {"name": "pie"},
 "mark": {"type": "arc", "outerRadius": 100},
 "encoding": {
  "theta": {"field": "pct", "type": "quantitative", "stack": true, "scale": {"range": [1.0385, 7.3217]}},
  "order": {"field": "no", "type": "quantitative", "sort": "ascending"},
  "color": {"field": "item", "type": "nominal", "legend": null},
  "opacity": {"condition": {"test": "datum.item === '水道管'", "value": 0}, "value": 1},
  "x": {"datum": "2065", "type": "ordinal", "axis": {"title": null}},
  "y": {"datum": 60.9, "type": "quantitative", "scale": {"domain": [0, 80], "nice": false}, "axis": null}
 }},
{"mark": {"type": "text", "text": "水道管", "fontSize": 19.5, "color": "#f3ec3a"},
 "encoding": {"x": {"datum": "2052", "type": "ordinal", "axis": {"title": null}}, "y": {"datum": 70.5, "type": "quantitative", "scale": {"domain": [0, 80], "nice": false}, "axis": null}}},
{"mark": {"type": "text", "text": "91.2%", "fontSize": 20.5, "color": "#f3ec3a"},
 "encoding": {"x": {"datum": "2052", "type": "ordinal", "axis": {"title": null}}, "y": {"datum": 65.4, "type": "quantitative", "scale": {"domain": [0, 80], "nice": false}, "axis": null}}},
{"mark": {"type": "text", "text": "1,770億円", "fontSize": 31, "fontWeight": 500, "color": "white"},
 "encoding": {"x": {"datum": "2058", "type": "ordinal", "axis": {"title": null}}, "y": {"datum": 52.0, "type": "quantitative", "scale": {"domain": [0, 80], "nice": false}, "axis": null}}},
{"mark": {"type": "rule", "color": "#333333", "strokeWidth": 1},
 "encoding": {"x": {"datum": "2087", "type": "ordinal", "axis": {"title": null}}, "x2": {"datum": "2094"}, "y": {"datum": 69.4, "type": "quantitative", "scale": {"domain": [0, 80], "nice": false}, "axis": null}, "y2": {"datum": 76.7}}},
{"mark": {"type": "rule", "color": "#333333", "strokeWidth": 1},
 "encoding": {"x": {"datum": "2089", "type": "ordinal", "axis": {"title": null}}, "x2": {"datum": "2094"}, "y": {"datum": 63.5, "type": "quantitative", "scale": {"domain": [0, 80], "nice": false}, "axis": null}, "y2": {"datum": 65.1}}},
{"mark": {"type": "rule", "color": "#333333", "strokeWidth": 1},
 "encoding": {"x": {"datum": "2089", "type": "ordinal", "axis": {"title": null}}, "x2": {"datum": "2094"}, "y": {"datum": 62.6, "type": "quantitative", "scale": {"domain": [0, 80], "nice": false}, "axis": null}, "y2": {"datum": 58.7}}},
{"mark": {"type": "rule", "color": "#333333", "strokeWidth": 1},
 "encoding": {"x": {"datum": "2089", "type": "ordinal", "axis": {"title": null}}, "x2": {"datum": "2093"}, "y": {"datum": 60.8, "type": "quantitative", "scale": {"domain": [0, 80], "nice": false}, "axis": null}, "y2": {"datum": 51.1}}},
{"mark": {"type": "text", "text": ["受配水池", "浄水場等", "6.0%"], "fontSize": 13, "lineHeight": 20, "color": "#444444", "align": "left", "baseline": "top", "dx": -3},
 "encoding": {"x": {"datum": "2095", "type": "ordinal", "axis": {"title": null}}, "y": {"datum": 78.2, "type": "quantitative", "scale": {"domain": [0, 80], "nice": false}, "axis": null}}},
{"mark": {"type": "text", "text": ["電気設備", "1.1%"], "fontSize": 13, "lineHeight": 18, "color": "#444444", "align": "left", "baseline": "top", "dx": -3},
 "encoding": {"x": {"datum": "2095", "type": "ordinal", "axis": {"title": null}}, "y": {"datum": 67.2, "type": "quantitative", "scale": {"domain": [0, 80], "nice": false}, "axis": null}}},
{"mark": {"type": "text", "text": ["減圧弁等", "0.2%"], "fontSize": 13, "lineHeight": 18, "color": "#444444", "align": "left", "baseline": "top", "dx": -3},
 "encoding": {"x": {"datum": "2095", "type": "ordinal", "axis": {"title": null}}, "y": {"datum": 60.2, "type": "quantitative", "scale": {"domain": [0, 80], "nice": false}, "axis": null}}},
{"mark": {"type": "text", "text": ["その他", "1.5%"], "fontSize": 13, "lineHeight": 18, "color": "#444444", "align": "left", "baseline": "top", "dx": -3},
 "encoding": {"x": {"datum": "2095", "type": "ordinal", "axis": {"title": null}}, "y": {"datum": 51.1, "type": "quantitative", "scale": {"domain": [0, 80], "nice": false}, "axis": null}}}
],
"resolve": {"scale": {"y": "independent"}}
}
